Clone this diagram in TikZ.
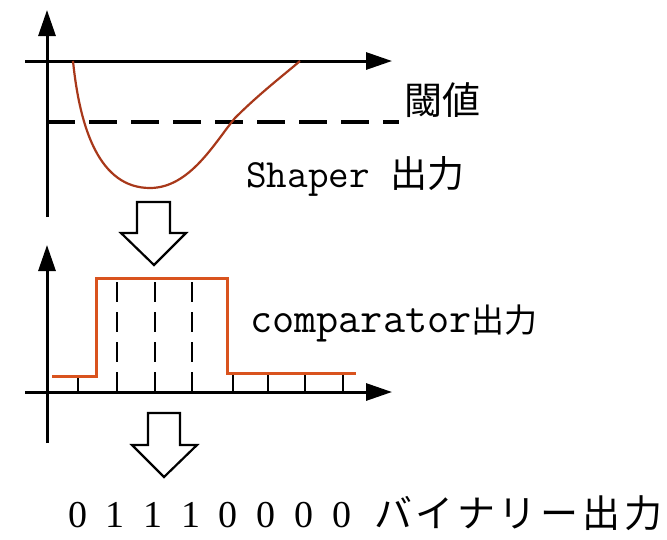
\documentclass[tikz,border=0pt]{standalone}
\usepackage{fontspec}
\newfontfamily\jp{Noto Sans CJK JP}
\newfontfamily\lmmono{Latin Modern Mono}
\newfontfamily\serifdig{Liberation Serif}
\usetikzlibrary{arrows.meta}
\definecolor{curvecol}{HTML}{A8381A}
\definecolor{stepcol}{HTML}{D9531E}
\begin{document}
\begin{tikzpicture}[x=1pt,y=-1pt,
  axis/.style={line width=3pt,-{Triangle[length=26pt,width=17pt]}},
  blockarrow/.style={draw=black,fill=white,line width=2.2pt,line join=miter},
  thresh/.style={line width=3.3pt,dash pattern=on 28pt off 14pt},
  grid/.style={line width=2.5pt,dash pattern=on 20pt off 10pt},
  tick/.style={line width=2.5pt},
  lbl/.style={inner sep=0pt,anchor=base west}]
\useasboundingbox (0,0) rectangle (667,539);
% ---------- top graph ----------
\coordinate (y1s) at (47,217);
\coordinate (y1e) at (47,10);
\coordinate (x1s) at (25,61);
\coordinate (x1e) at (392,61);
\draw[axis] (y1s) -- (y1e);
\draw[axis] (x1s) -- (x1e);
\coordinate (th1) at (47,122);
\coordinate (th2) at (399,122);
\draw[thresh] (th1) -- (th2);
\coordinate (c0) at (73,61);
\coordinate (cmin) at (150,188);
\coordinate (cx) at (235,118);
\coordinate (c1) at (300,61);
\draw[curvecol,line width=2.2pt]
  (c0) .. controls (80,130) and (100,188) .. (cmin)
       .. controls (190,188) and (215,142) .. (cx)
       .. controls (260,93) and (285,74) .. (c1);
\node[lbl] (thr) at (404,114) {\fontsize{38}{40}\selectfont\jp 閾値};
\node[lbl] (shaper) at (246,187) {\fontsize{40}{42}\selectfont\lmmono Shaper {\jp\fontsize{37}{40}\selectfont 出力}};
% ---------- arrow 1 ----------
\draw[blockarrow] (137,202) -- (170,202) -- (170,233) -- (186,233) -- (154,265)
  -- (121,233) -- (137,233) -- cycle;
% ---------- bottom graph ----------
\coordinate (y2s) at (47,443);
\coordinate (y2e) at (47,245);
\coordinate (x2s) at (25,392);
\coordinate (x2e) at (392,392);
\draw[axis] (y2s) -- (y2e);
\draw[axis] (x2s) -- (x2e);
\foreach \x in {117,155,192} \draw[grid] (\x,282) -- (\x,392);
\draw[tick] (78,376) -- (78,392);
\foreach \x in {233,268,305,343} \draw[tick] (\x,373) -- (\x,392);
\draw[stepcol,line width=3pt] (52,376) -- (96,376) -- (96,278) -- (227,278) -- (227,373) -- (356,373);
\node[lbl] (comp) at (250,332) {\fontsize{43}{45}\selectfont\lmmono comparator{\jp\fontsize{33}{36}\selectfont 出力}};
% ---------- arrow 2 ----------
\draw[blockarrow] (148,413) -- (180,413) -- (180,445) -- (197,445) -- (164,477)
  -- (132,445) -- (148,445) -- cycle;
% ---------- binary output ----------
\node[lbl] (bits) at (68,527) {\fontsize{38}{40}\selectfont\serifdig\spaceskip=18.7pt\relax 0 1 1 1 0 0 0 0};
\node[lbl] (bin) at (374,527) {\fontsize{38}{40}\selectfont\jp\addfontfeature{LetterSpace=10}バイナリー出力};
\end{tikzpicture}
\end{document}
